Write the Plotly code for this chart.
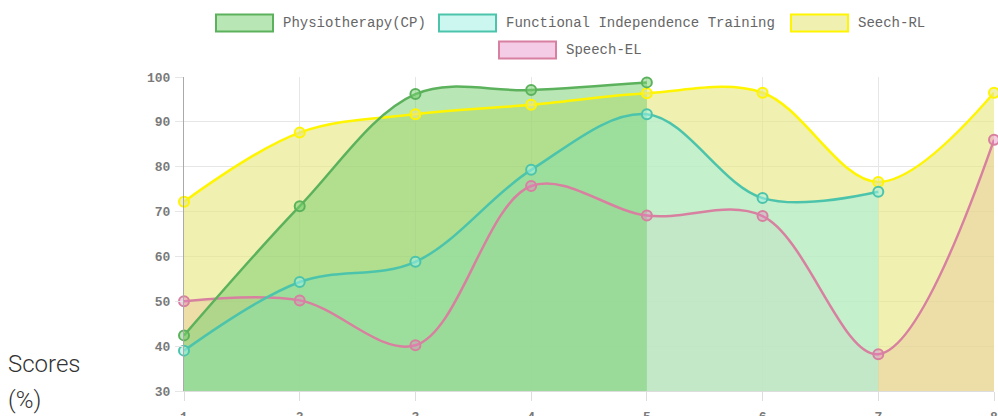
import plotly.graph_objects as go

# ---------------- data ----------------
sessions = [1, 2, 3, 4, 5, 6, 7, 8]
series_names = ["Physiotherapy(CP)", "Functional Independence Training", "Seech-RL", "Speech-EL"]
physio = [42.4, 71.2, 96.2, 97.1, 98.8]
fit = [39.0, 54.3, 58.8, 79.3, 91.7, 73.0, 74.4]
seech_rl = [72.2, 87.6, 91.7, 93.8, 96.4, 96.5, 76.6, 96.5]
speech_el = [50.0, 50.2, 40.2, 75.7, 69.1, 69.0, 38.2, 86.0]
y_ticks = [30, 40, 50, 60, 70, 80, 90, 100]
x_ticks = [1, 2, 3, 4, 5, 6, 7, 8]

# ---------------- styles ----------------
line_colors = ["rgb(92,178,92)", "rgb(76,196,172)", "rgb(255,245,0)", "rgb(216,128,160)"]
fill_colors = ["rgba(118,207,111,0.52)", "rgba(160,240,227,0.55)",
               "rgba(232,232,133,0.65)", "rgba(230,127,192,0.4)"]
values = [physio, fit, seech_rl, speech_el]

W, H = 998, 416
L, R, T, B = 184, 4, 77, 25
PW, PH = W - L - R, H - T - B


def px2x(px):  # window pixel -> paper x
    return (px - L) / PW


def py2y(py):  # window pixel -> paper y
    return (H - B - py) / PH


fig = go.Figure()

# fills first (bottom series first), so every line sits on top of all fills
for i in reversed(range(4)):
    fig.add_trace(go.Scatter(
        x=sessions[:len(values[i])], y=values[i], mode="lines",
        line=dict(width=0, shape="spline", smoothing=1, color="rgba(0,0,0,0)"),
        fill="tozeroy", fillcolor=fill_colors[i],
        showlegend=False, hoverinfo="skip"))

for i in reversed(range(4)):
    fig.add_trace(go.Scatter(
        x=sessions[:len(values[i])], y=values[i], mode="lines+markers",
        name=series_names[i],
        line=dict(width=2.5, shape="spline", smoothing=1, color=line_colors[i]),
        marker=dict(size=10, color=fill_colors[i], line=dict(width=2, color=line_colors[i])),
        cliponaxis=False, showlegend=False))

# legend drawn as boxes + labels (Chart.js style)
legend_items = [
    (0, 216, 273, 23),
    (1, 439, 496, 23),
    (2, 791, 848, 23),
    (3, 499, 556, 50),
]
for idx, x0, x1, cy in legend_items:
    fig.add_shape(type="rect", xref="paper", yref="paper",
                  x0=px2x(x0), x1=px2x(x1), y0=py2y(cy - 8.5), y1=py2y(cy + 8.5),
                  fillcolor=fill_colors[idx], line=dict(color=line_colors[idx], width=2))
    fig.add_annotation(xref="paper", yref="paper", x=px2x(x1 + 8), y=py2y(cy),
                       xanchor="left", yanchor="middle", showarrow=False,
                       text=series_names[idx],
                       font=dict(family="Liberation Mono", size=14, color="#666666"))

# y axis title (rendered at lower left)
fig.add_annotation(xref="paper", yref="paper", x=px2x(6), y=py2y(364),
                   xanchor="left", yanchor="middle", showarrow=False, text="Scores",
                   font=dict(family="Roboto", size=24, color="#333333", weight=300))
fig.add_annotation(xref="paper", yref="paper", x=px2x(6), y=py2y(400),
                   xanchor="left", yanchor="middle", showarrow=False, text="(%)",
                   font=dict(family="Roboto", size=24, color="#333333", weight=300))

tick_font = dict(family="Liberation Mono", size=13, color="#7a7a7a", weight="bold")
fig.update_xaxes(range=[1, 8], tickvals=x_ticks, ticktext=[str(v) for v in x_ticks],
                 showgrid=True, gridcolor="#e6e6e6", gridwidth=1,
                 ticks="outside", ticklen=9, tickcolor="#dddddd", ticklabelstandoff=4,
                 ticklabeloverflow="allow",
                 showline=True, linecolor="#dddddd", zeroline=False,
                 tickfont=tick_font, automargin=False)
fig.update_yaxes(range=[30, 100], tickvals=y_ticks, ticktext=[str(v) for v in y_ticks],
                 showgrid=True, gridcolor="#e6e6e6", gridwidth=1,
                 ticks="outside", ticklen=8, tickcolor="#e6e6e6", ticklabelstandoff=2,
                 showline=True, linecolor="#aaaaaa", zeroline=False,
                 tickfont=tick_font, automargin=False)

fig.update_layout(width=W, height=H, autosize=False,
                  margin=dict(l=L, r=R, t=T, b=B),
                  paper_bgcolor="white", plot_bgcolor="white",
                  showlegend=False)

# remove the browser's default body margin so the figure fills the window exactly
fig.write_html("out.html", config={"displayModeBar": False},
               post_script="document.body.style.margin='0';document.body.style.overflow='hidden';")
